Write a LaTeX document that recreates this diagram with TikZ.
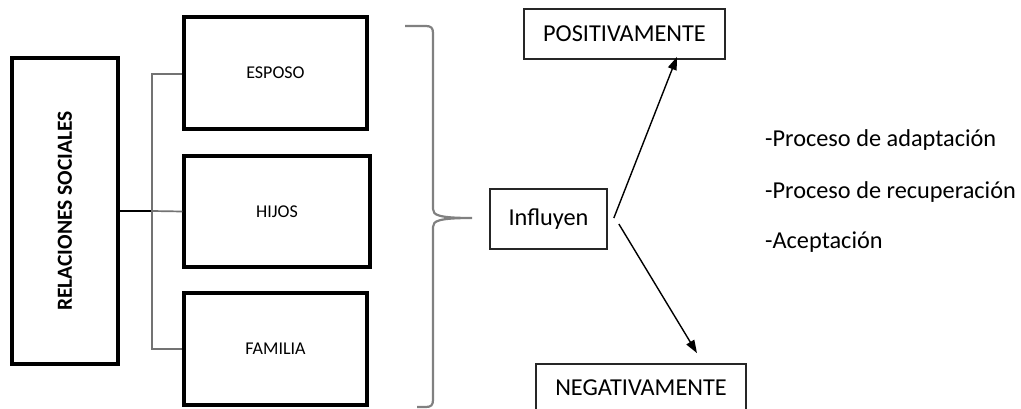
\documentclass[tikz,border=0pt]{standalone}
\usepackage{fontspec}
\setmainfont{Carlito}
\usetikzlibrary{arrows.meta,calc}

\tikzset{
  heavybox/.style={draw=black,line width=3.2pt,minimum width=#1,inner sep=0pt},
  lightbox/.style={draw=black!85,line width=1.7pt,inner sep=0pt},
  smalllabel/.style={font=\fontsize{18}{20}\selectfont},
  biglabel/.style={font=\fontsize{24.3}{27}\selectfont},
  link/.style={draw=black!55,line width=1.7pt},
  arr/.style={draw=black,line width=1.4pt,-{Triangle[length=13pt,width=9pt]}},
  bracestyle/.style={draw=black!50,line width=2.2pt},
}

\begin{document}
\begin{tikzpicture}[x=1pt,y=-1pt]
\useasboundingbox (0,0) rectangle (1021,409);

% left column: main topic and its three relations
\node[heavybox=106pt,minimum height=306pt] (rel) at (65,211)
  {\rotatebox{90}{\fontsize{21.5}{24}\selectfont\bfseries RELACIONES SOCIALES}};
\node[heavybox=183pt,minimum height=112pt,smalllabel] (esposo) at (275.5,73) {ESPOSO};
\node[heavybox=186pt,minimum height=111pt,smalllabel] (hijos) at (277,211.5) {HIJOS};
\node[heavybox=183pt,minimum height=112pt,smalllabel] (familia) at (275.5,349) {FAMILIA};

% tree connectors
\coordinate (bus) at (152,0);
\draw[draw=black,line width=1.7pt] (rel.east) -- (bus |- rel.east);
\draw[link] (bus |- rel.east) -- (hijos.west);
\draw[link] ([yshift=-1pt]esposo.west) -| (bus |- familia.west) -- (familia.west);

% grouping brace
\coordinate (btop) at (405,26);
\coordinate (btip) at (472,218);
\coordinate (bbot) at (417,407);
\draw[bracestyle] (btop) -- (426,26) .. controls (431,26) and (433,28) .. (433,33)
  -- (433,209) .. controls (433,215) and (438,218) .. (btip)
  .. controls (438,218) and (433,221) .. (433,227)
  -- (433,400) .. controls (433,405) and (431,407) .. (426,407) -- (bbot);

% effect and its two outcomes
\node[lightbox,minimum width=117pt,minimum height=60pt,biglabel] (influyen) at (548.5,219) {Influyen};
\node[lightbox,minimum width=201pt,minimum height=50pt,biglabel] (pos) at (624.5,34) {POSITIVAMENTE};
\node[lightbox,minimum width=210pt,minimum height=48pt,biglabel] (neg) at (641,388) {NEGATIVAMENTE};

\draw[arr] ($(influyen.east)+(6,-1)$) -- ($(pos.south)+(52.5,-3)$);
\draw[arr] ($(influyen.east)+(11,5)$) -- ($(neg.north)+(56,-10)$);

% list of processes
\node[biglabel,anchor=base west,inner sep=0pt] (l1) at (765,146.5) {-Proceso de adaptación};
\node[biglabel,anchor=base west,inner sep=0pt] (l2) at (765,199) {-Proceso de recuperación};
\node[biglabel,anchor=base west,inner sep=0pt] (l3) at (765,248) {-Aceptación};
\end{tikzpicture}
\end{document}
